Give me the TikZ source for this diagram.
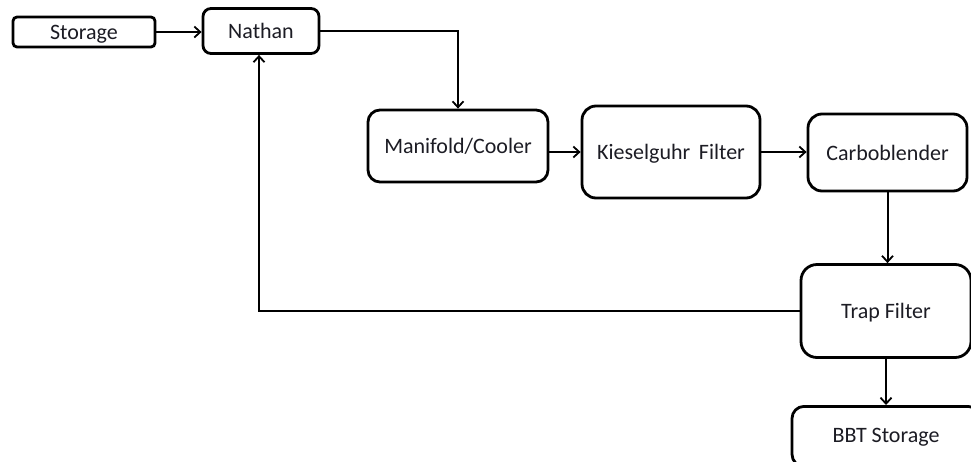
\documentclass[tikz,border=0pt]{standalone}
\usepackage{fontspec}
\setmainfont{Carlito}
\usetikzlibrary{arrows.meta}
\definecolor{ink}{HTML}{1C1C24}
\begin{document}
\begin{tikzpicture}[x=1pt,y=-1pt,
  label font/.style={font=\fontsize{22}{26}\selectfont,text=ink,text height=17pt,text depth=2pt},
  stage/.style={draw=black,line width=2.8pt,fill=white,inner sep=0pt,label font},
  flow/.style={line width=2pt,-{Straight Barb[length=6pt,width=11pt,line width=1.8pt]}}]
\useasboundingbox (0,0) rectangle (971,461);
% process stages
\node[stage,rounded corners=4pt,minimum width=142pt,minimum height=30pt] (storage) at (84,32) {Storage};
\node[stage,rounded corners=8pt,minimum width=116pt,minimum height=45pt] (nathan) at (261,31) {Nathan};
\node[stage,rounded corners=12pt,minimum width=180pt,minimum height=72pt] (manifold) at (458,146) {Manifold/Cooler};
\node[stage,rounded corners=14pt,minimum width=178pt,minimum height=92pt] (kiesel) at (671,152) {Kieselguhr\, Filter};
\node[stage,rounded corners=14pt,minimum width=159pt,minimum height=77pt] (carbo) at (887.5,152.5) {Carboblender};
\node[stage,rounded corners=16pt,minimum width=170pt,minimum height=93pt] (trap) at (886,311) {Trap Filter};
\node[stage,rounded corners=12pt,minimum width=188pt,minimum height=60pt,anchor=north] (bbt) at (886,405) {};
\node[label font] (bbtlabel) at (886,435) {BBT Storage};
% connectors
\draw[flow] (storage.east) -- (storage.east -| nathan.west);
\draw[flow] (nathan.east) -| (manifold.north);
\draw[flow] (manifold.east |- kiesel.west) -- (kiesel.west);
\draw[flow] (kiesel.east) -- (kiesel.east -| carbo.west);
\draw[flow] (carbo.south) -- (carbo.south |- trap.north);
\draw[flow] (trap.south) -- (bbt.north);
\draw[flow] (trap.west) -| ([xshift=-2pt]nathan.south);
\end{tikzpicture}
\end{document}
